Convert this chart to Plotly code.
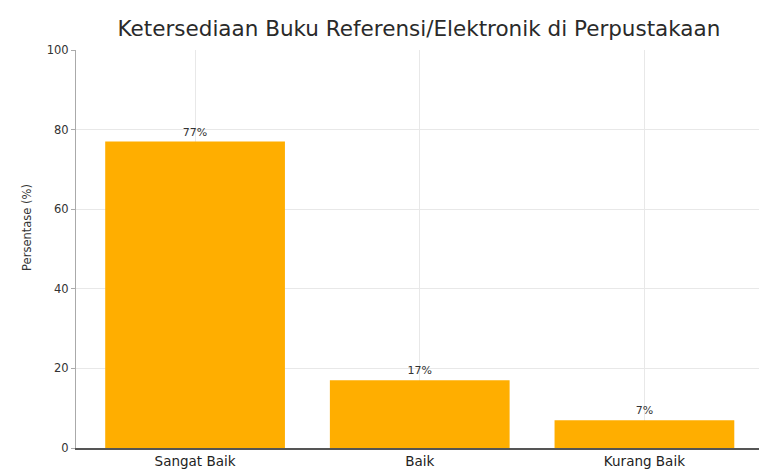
import plotly.graph_objects as go

# Survey result: availability of reference/electronic books in the library
categories = ["Sangat Baik", "Baik", "Kurang Baik"]
percentages = [77, 17, 7]
y_ticks = [0, 20, 40, 60, 80, 100]

bar_color = "#FFAE00"
font_family = "DejaVu Sans, Liberation Sans, sans-serif"

fig = go.Figure(
    go.Bar(
        x=list(range(len(categories))),
        y=percentages,
        width=0.8,
        marker=dict(color=bar_color, line=dict(width=0)),
        text=[f"{v}%" for v in percentages],
        textposition="outside",
        textfont=dict(size=11, color="#333333", family=font_family),
        cliponaxis=False,
    )
)

fig.update_layout(
    width=759,
    height=469,
    margin=dict(l=76, r=0, t=50, b=21),
    paper_bgcolor="white",
    plot_bgcolor="white",
    showlegend=False,
    font=dict(family=font_family, color="#333333"),
    title=dict(
        text="Ketersediaan Buku Referensi/Elektronik di Perpustakaan",
        x=0.552,
        xanchor="center",
        y=0.94,
        yanchor="middle",
        font=dict(size=21.5, color="#2a2a2a", family=font_family),
    ),
    bargap=0.2,
)

# y-axis caption placed as a rotated annotation left of the tick labels
fig.add_annotation(
    text="Persentase (%)",
    xref="paper",
    yref="paper",
    x=0,
    xshift=-58,
    y=0.553,
    textangle=-90,
    showarrow=False,
    font=dict(size=11.5, color="#333333", family=font_family),
)

fig.update_xaxes(
    range=[-0.53, 2.51],
    tickvals=list(range(len(categories))),
    ticktext=categories,
    tickfont=dict(size=13.5, color="#222222"),
    showgrid=True,
    gridcolor="#e8e8e8",
    gridwidth=1,
    ticks="",
    showline=True,
    linecolor="#555555",
    linewidth=2,
    zeroline=False,
)

fig.update_yaxes(
    range=[0, 100],
    tickvals=y_ticks,
    ticktext=[str(t) for t in y_ticks],
    tickfont=dict(size=11.5, color="#333333"),
    showgrid=True,
    gridcolor="#e8e8e8",
    gridwidth=1,
    ticks="outside",
    ticklen=4,
    tickcolor="#aaaaaa",
    showline=True,
    linecolor="#aaaaaa",
    linewidth=1,
    zeroline=False,
)

fig.write_html("out.html")
